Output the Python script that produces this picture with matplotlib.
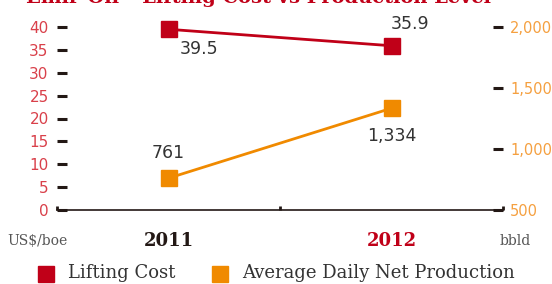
import matplotlib
matplotlib.use("Agg")
import matplotlib.pyplot as plt
from matplotlib.ticker import FixedLocator

years = ["2011", "2012"]
year_colors = ["#231815", "#c00018"]
lifting_cost = [39.5, 35.9]
production = [761, 1334]
left_ticks = [0, 5, 10, 15, 20, 25, 30, 35, 40]
right_ticks = [500, 1000, 1500, 2000]
right_labels = ["500", "1,000", "1,500", "2,000"]

RED = "#c00018"
ORANGE = "#f08a00"
NUM_FONT = ["Liberation Sans Narrow", "DejaVu Sans"]
SERIF = ["DejaVu Serif"]

fig = plt.figure(figsize=(5.52, 2.84), dpi=100)
ax = fig.add_axes([57/552, 1 - 210/284, 446/552, 183/284])
ax2 = ax.twinx()

x = [0.5, 1.5]
ax.set_xlim(0, 2)
ax.set_ylim(0, 40)
ax2.set_ylim(500, 2000)

ax.plot(x, lifting_cost, color=RED, lw=2, marker="s", ms=12, mfc=RED, mec=RED, zorder=5,
        clip_on=False)
ax2.plot(x, production, color=ORANGE, lw=2, marker="s", ms=12, mfc=ORANGE, mec=ORANGE, zorder=5,
         clip_on=False)

for a in (ax, ax2):
    for s in ["top", "left", "right"]:
        a.spines[s].set_visible(False)
ax2.spines["bottom"].set_visible(False)
ax.spines["bottom"].set_color("#231815")
ax.spines["bottom"].set_linewidth(1.2)

ax.set_yticks(left_ticks)
ax.set_yticklabels([str(v) for v in left_ticks])
ax.tick_params(axis="y", direction="in", length=7, width=2.2, color="#231815",
               labelcolor="#d9404a", labelsize=11, pad=6)
for lab in ax.get_yticklabels():
    lab.set_family(NUM_FONT)

ax2.set_yticks(right_ticks)
ax2.set_yticklabels(right_labels)
ax2.tick_params(axis="y", direction="in", length=7, width=2.2, color="#231815",
                labelcolor="#f5a040", labelsize=10.5, pad=5)
for lab in ax2.get_yticklabels():
    lab.set_family(NUM_FONT)

ax.set_xticks(x)
ax.set_xticklabels([])
ax.tick_params(axis="x", length=0)
ax.xaxis.set_minor_locator(FixedLocator([0, 1, 2]))
ax.tick_params(axis="x", which="minor", direction="in", length=3, width=2, color="#231815")

for xi, yr, c in zip(x, years, year_colors):
    ax.annotate(yr, xy=(xi, 0), xycoords=("data", "axes fraction"), xytext=(0, -22),
                textcoords="offset points", ha="center", va="center",
                fontsize=13, fontweight="bold", color=c, family=SERIF)

ax.annotate("US$/boe", xy=(0, 0), xycoords="axes fraction", xytext=(-14, -22),
            textcoords="offset points", ha="center", va="center",
            fontsize=10, color="#555555", family=SERIF)
ax.annotate("bbld", xy=(1, 0), xycoords="axes fraction", xytext=(9, -22),
            textcoords="offset points", ha="center", va="center",
            fontsize=10, color="#555555", family=SERIF)

# value labels
ax.annotate("39.5", xy=(x[0], lifting_cost[0]), xytext=(22, -14), textcoords="offset points",
            ha="center", va="center", fontsize=12.5, color="#333333", family=NUM_FONT)
ax.annotate("35.9", xy=(x[1], lifting_cost[1]), xytext=(13, 16), textcoords="offset points",
            ha="center", va="center", fontsize=12.5, color="#333333", family=NUM_FONT)
ax2.annotate("761", xy=(x[0], production[0]), xytext=(0, 18), textcoords="offset points",
             ha="center", va="center", fontsize=12.5, color="#333333", family=NUM_FONT)
ax2.annotate("1,334", xy=(x[1], production[1]), xytext=(0, -20), textcoords="offset points",
             ha="center", va="center", fontsize=12.5, color="#333333", family=NUM_FONT)

# legend
fig.patches.append(plt.Rectangle((38/552, 1 - 282/284), 16/552, 16/284, transform=fig.transFigure,
                                 color=RED))
fig.text(68/552, 1 - 273/284, "Lifting Cost", fontsize=13, color="#333333", family=SERIF,
         va="center", ha="left")
fig.patches.append(plt.Rectangle((212/552, 1 - 282/284), 16/552, 16/284, transform=fig.transFigure,
                                 color=ORANGE))
fig.text(242/552, 1 - 273/284, "Average Daily Net Production", fontsize=13, color="#333333",
         family=SERIF, va="center", ha="left")

# title (cropped at top in reference)
fig.text(259/552, 1 - 3/284, "Emir-Oil \u2013 Lifting Cost vs Production Level", fontsize=14,
         fontweight="bold", color=RED, family=SERIF, ha="center", va="baseline")

fig.savefig("out.png", dpi=100)
